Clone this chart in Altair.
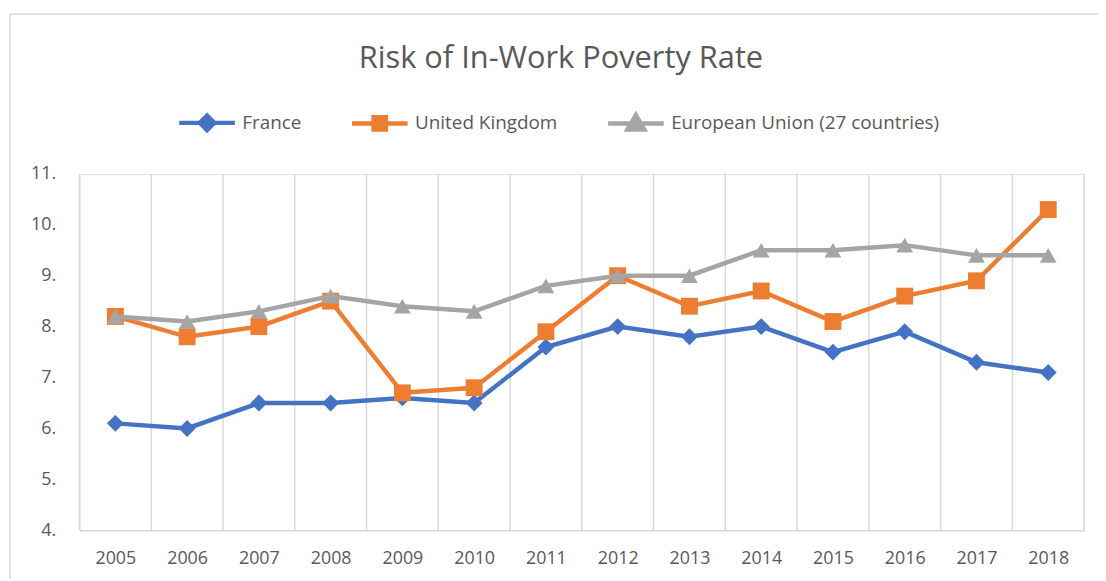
import altair as alt
import pandas as pd

years = list(range(2005, 2019))
france = [6.1, 6.0, 6.5, 6.5, 6.6, 6.5, 7.6, 8.0, 7.8, 8.0, 7.5, 7.9, 7.3, 7.1]
uk = [8.2, 7.8, 8.0, 8.5, 6.7, 6.8, 7.9, 9.0, 8.4, 8.7, 8.1, 8.6, 8.9, 10.3]
eu = [8.2, 8.1, 8.3, 8.6, 8.4, 8.3, 8.8, 9.0, 9.0, 9.5, 9.5, 9.6, 9.4, 9.4]
y_ticks = [4, 5, 6, 7, 8, 9, 10, 11]

series_names = ["France", "United Kingdom", "European Union (27 countries)"]
series_colors = ["#4472C4", "#ED7D31", "#A5A5A5"]
plot_shapes = ["diamond", "square", "triangle-up"]
legend_shapes = [
    "M-1,0H1M0,-0.26L0.26,0L0,0.26L-0.26,0Z",
    "M-1,0H1M-0.22,-0.22H0.22V0.22H-0.22Z",
    "M-1,0H1M0,-0.3L0.3,0.22H-0.3Z",
]

rows = []
for name, vals in zip(series_names, [france, uk, eu]):
    for yr, v in zip(years, vals):
        rows.append({"year": yr, "series": name, "value": v})
df = pd.DataFrame(rows)

edges = [y - 0.5 for y in years] + [years[-1] + 0.5]
grid_df = pd.DataFrame({"edge": edges})
one_df = pd.DataFrame({"k": [0]})

W, H = 1012, 359
FONT = "Open Sans"
TXT = "#595959"
GRID = "#d9d9d9"

xscale = alt.Scale(domain=[years[0] - 0.5, years[-1] + 0.5], nice=False, zero=False)
yscale = alt.Scale(domain=[y_ticks[0], y_ticks[-1]], nice=False, zero=False)

x_axis = alt.Axis(values=years, format="d", title=None, grid=False, ticks=False,
                  domainColor=GRID, domainWidth=1.5, labelPadding=19,
                  labelFontSize=18, labelColor=TXT, labelFont=FONT)
y_axis = alt.Axis(values=y_ticks, labelExpr="datum.value + '.'", title=None,
                  grid=False, ticks=False, domain=False, labelPadding=24,
                  labelFontSize=18, labelColor=TXT, labelFont=FONT)

X = alt.X("year:Q", scale=xscale, axis=x_axis)
Y = alt.Y("value:Q", scale=yscale, axis=y_axis)

grid = alt.Chart(grid_df).mark_rule(color=GRID, strokeWidth=1.5).encode(
    x=alt.X("edge:Q", scale=xscale, axis=x_axis)
)

layers = [grid]
for name, col, shp in zip(series_names, series_colors, plot_shapes):
    sub = alt.Chart(df).transform_filter(alt.datum.series == name)
    layers.append(sub.mark_line(color=col, strokeWidth=4.5).encode(x=X, y=Y))
    layers.append(sub.mark_point(shape=shp, filled=True, color=col, size=289, opacity=1).encode(x=X, y=Y))

leg = alt.Legend(orient="none", legendX=98, legendY=-82, direction="horizontal", title=None,
                 symbolSize=3136, symbolStrokeWidth=4.5, labelFontSize=19, labelColor=TXT,
                 labelFont=FONT, labelLimit=500, columnPadding=41, labelOffset=5, padding=0)
color_scale = alt.Scale(domain=series_names, range=series_colors)
legend_layer = alt.Chart(df).transform_filter("false").mark_point(filled=False, strokeWidth=4.5, opacity=1).encode(
    x=X, y=Y,
    color=alt.Color("series:N", scale=color_scale, legend=leg),
    fill=alt.Fill("series:N", scale=color_scale, legend=leg),
    shape=alt.Shape("series:N", scale=alt.Scale(domain=series_names, range=legend_shapes), legend=leg),
)
layers.append(legend_layer)

border_left = alt.Chart(one_df).mark_rule(color=GRID, strokeWidth=1.5).encode(
    x=alt.value(-70), y=alt.value(-161), y2=alt.value(H + 49))
border_top = alt.Chart(one_df).mark_rule(color=GRID, strokeWidth=1.5).encode(
    x=alt.value(-70), x2=alt.value(W + 14), y=alt.value(-161))
layers = [border_left, border_top] + layers

chart = alt.layer(*layers).properties(
    width=W, height=H,
    title=alt.TitleParams("Risk of In-Work Poverty Rate", fontSize=31, font=FONT, fontWeight="normal",
                          color=TXT, anchor="middle", offset=-62, dx=-21),
    autosize=alt.AutoSizeParams(type="none"),
    padding={"left": 72, "top": 165, "right": 14, "bottom": 49},
).configure_view(stroke=None).configure(background="white")

chart.save("out.html", embed_options={"renderer": "svg", "actions": False})
